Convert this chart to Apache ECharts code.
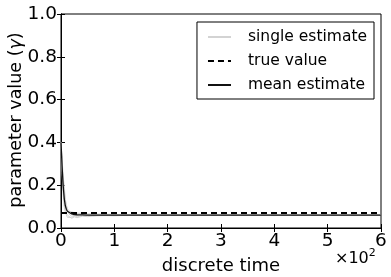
<!DOCTYPE html>
<html><head><meta charset="utf-8">
<script src="https://cdn.jsdelivr.net/npm/echarts@6/dist/echarts.min.js"></script>
<style>html,body{margin:0;padding:0;background:#fff}#c{width:391px;height:277px}</style>
</head><body><div id="c"></div>
<script>
const xTickLabels = ["0","1","2","3","4","5","6"];
const yTickLabels = ["0.0","0.2","0.4","0.6","0.8","1.0"];
const times = [0,2,4,6,8,10,12,15,20,25,30,40,50,60,80,100,125,150,200,250,300,350,400,450,500,550,600];
const meanEstimate = [0.40,0.29,0.20,0.14,0.105,0.088,0.078,0.07,0.066,0.063,0.062,0.061,0.06,0.06,0.06,0.06,0.06,0.06,0.06,0.06,0.06,0.06,0.06,0.06,0.06,0.06,0.06];
const trueValue = [0.07,0.07];
const trueTimes = [0,600];
const single1 = [0.40,0.33,0.24,0.20,0.14,0.10,0.08,0.065,0.055,0.06,0.052,0.058,0.063,0.057,0.061,0.059,0.058,0.061,0.06,0.059,0.061,0.06,0.059,0.061,0.06,0.059,0.06];
const single2 = [0.40,0.26,0.16,0.10,0.075,0.06,0.05,0.045,0.05,0.055,0.058,0.062,0.057,0.06,0.058,0.061,0.06,0.059,0.06,0.061,0.059,0.06,0.061,0.06,0.059,0.06,0.061];
const single3 = [0.40,0.30,0.21,0.15,0.12,0.09,0.075,0.07,0.068,0.065,0.07,0.066,0.064,0.065,0.063,0.062,0.062,0.061,0.061,0.062,0.06,0.061,0.062,0.06,0.061,0.062,0.06];
const single4 = [0.40,0.28,0.18,0.12,0.085,0.07,0.06,0.055,0.045,0.052,0.048,0.055,0.053,0.056,0.058,0.057,0.059,0.058,0.059,0.058,0.06,0.059,0.058,0.06,0.059,0.058,0.059];
const single5 = [0.40,0.31,0.22,0.17,0.13,0.11,0.09,0.08,0.075,0.072,0.068,0.07,0.066,0.064,0.065,0.063,0.062,0.063,0.062,0.061,0.062,0.061,0.061,0.062,0.061,0.061,0.062];
const singles = [single1,single2,single3,single4,single5];

const pair = (xs, ys) => xs.map((x,i)=>[x,ys[i]]);
const chart = echarts.init(document.getElementById('c'));
const F = 'DejaVu Sans';
const series = [];
singles.forEach(s => series.push({name:'single estimate', type:'line', data:pair(times,s), symbol:'none', lineStyle:{color:'#d3d3d3', width:1}, itemStyle:{color:'#d3d3d3'}, z:1, silent:true}));
series.push({name:'true value', type:'line', data:pair(trueTimes,trueValue), symbol:'none', lineStyle:{color:'#000', width:2, type:[6,4]}, itemStyle:{color:'#000'}, z:3});
series.push({name:'mean estimate', type:'line', data:pair(times,meanEstimate), symbol:'none', lineStyle:{color:'#111', width:1.3}, itemStyle:{color:'#111'}, z:4});

const tickStyle = {show:true, inside:true, length:4, lineStyle:{color:'#000'}};
chart.setOption({
  animation:false,
  grid:{left:61, right:10, top:14, bottom:49, show:true, borderColor:'#000', borderWidth:1, containLabel:false, outerBoundsMode:'none'},
  legend:{
    data:['single estimate','true value','mean estimate'],
    orient:'vertical', right:17, top:22, padding:[7,7,6,10],
    borderColor:'#000', borderWidth:1, backgroundColor:'#fff',
    itemWidth:23, itemHeight:10, itemGap:8,
    itemStyle:{opacity:0, borderWidth:0},
    textStyle:{fontFamily:F, fontSize:15.5, color:'#000', padding:[0,0,0,12]}
  },
  xAxis:[{
    type:'value', min:0, max:600, interval:100,
    name:'discrete time', nameLocation:'middle', nameGap:29, nameMoveOverlap:false,
    nameTextStyle:{fontFamily:F, fontSize:18, color:'#000'},
    axisLine:{show:true, lineStyle:{color:'#000'}}, axisTick:tickStyle, splitLine:{show:false},
    axisLabel:{fontFamily:F, fontSize:18.5, color:'#000', margin:4, formatter:(v)=>xTickLabels[Math.round(v/100)]}
  },{
    type:'value', min:0, max:600, interval:100, position:'top',
    axisLine:{show:true, lineStyle:{color:'#000'}}, axisTick:tickStyle, axisLabel:{show:false}, splitLine:{show:false}
  }],
  yAxis:[{
    type:'value', min:0, max:1, interval:0.2,
    axisLine:{show:true, lineStyle:{color:'#000'}}, axisTick:tickStyle, splitLine:{show:false},
    axisLabel:{fontFamily:F, fontSize:18.5, color:'#000', margin:4, formatter:(v)=>yTickLabels[Math.round(v*5)]}
  },{
    type:'value', min:0, max:1, interval:0.2, position:'right',
    axisLine:{show:true, lineStyle:{color:'#000'}}, axisTick:tickStyle, axisLabel:{show:false}, splitLine:{show:false}
  }],
  graphic:[{
    type:'text', x:16, y:120, rotation:Math.PI/2,
    style:{text:'{a|parameter value (}{g|γ}{a|)}', align:'center', verticalAlign:'middle',
      rich:{a:{fontFamily:F, fontSize:17.5, color:'#000'}, g:{fontFamily:F, fontSize:17.5, fontStyle:'italic', color:'#000'}}}
  },{
    type:'text', left:335, top:248,
    style:{text:'{a|×10}{s|2}', rich:{a:{fontFamily:F, fontSize:16, color:'#000'}, s:{fontFamily:F, fontSize:11, color:'#000', verticalAlign:'top', padding:[0,0,10,0]}}}
  }],
  series:series
});
</script></body></html>
